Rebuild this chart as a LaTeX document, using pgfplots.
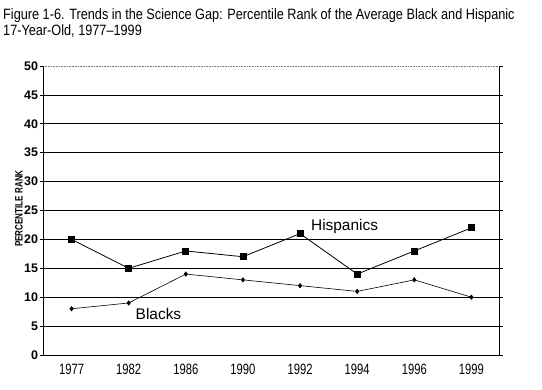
\documentclass[border=0pt]{standalone}
\usepackage{fontspec}
\setmainfont{Liberation Sans}
\newfontfamily\condfont[FakeStretch=0.85]{Liberation Sans}
\newfontfamily\narrowfont[FakeStretch=0.75]{Liberation Sans}
\usepackage{pgfplots}
\pgfplotsset{compat=1.18}
\begin{document}
\begin{tikzpicture}
\begin{axis}[
  at={(0,0)}, anchor=south west,
  scale only axis, width=457bp, height=289bp,
  xmin=-0.5, xmax=7.5, ymin=0, ymax=50,
  xtick={0,...,7},
  xticklabels={1977,1982,1986,1990,1992,1994,1996,1999},
  x tick label style={font=\narrowfont\fontsize{15}{17}\selectfont, yshift=-3bp},
  major x tick style={draw=none},
  ytick={0,5,...,50},
  y tick label style={font=\fontsize{12.5}{14}\selectfont\bfseries, xshift=1.5bp},
  /pgf/number format/assume math mode=true,
  tick align=outside, major tick length=3bp,
  ytick style={black, line width=0.8pt},
  ymajorgrids, grid style={black, line width=0.7pt},
  axis line style={draw=none},
  clip=false,
]
\draw[white, line width=1pt] (axis cs:-0.5,50) -- (axis cs:7.5,50);
\draw[gray, line width=0.6pt, densely dotted] (axis cs:-0.5,50) -- (axis cs:7.5,50);
\draw[black, line width=1pt] (axis cs:-0.5,50) -- (axis cs:-0.5,0) -- (axis cs:7.5,0) -- (axis cs:7.5,50);
\addplot[black, line width=0.8pt, mark=square*, mark size=3bp] coordinates {
(0,20) (1,15) (2,18) (3,17) (4,21) (5,14) (6,18) (7,22)};
\addplot[black, line width=0.6pt, mark=diamond*, mark size=2.2bp] coordinates {
(0,8) (1,9) (2,14) (3,13) (4,12) (5,11) (6,13) (7,10)};
\node[anchor=west, font=\fontsize{15.5}{17}\selectfont, inner sep=0pt] at (axis cs:4.19,22.3) {Hispanics};
\node[anchor=west, font=\fontsize{15.5}{17}\selectfont, inner sep=0pt] at (axis cs:1.12,7.1) {Blacks};
\node[rotate=90, inner sep=0pt, font=\narrowfont\bfseries\fontsize{10.8}{11}\selectfont] at ([xshift=-24bp,yshift=2bp]axis description cs:0,0.5) {PERCENTILE RANK};
\end{axis}
\node[anchor=north west, align=left, inner sep=0pt, font=\condfont\fontsize{15}{16.5}\selectfont] at (-40bp,347bp) {Figure 1-6. Trends in the Science Gap: Percentile Rank of the Average Black and Hispanic\\17-Year-Old, 1977–1999};
\pgfresetboundingbox
\path (-43bp,-35bp) rectangle (499bp,355bp);
\end{tikzpicture}
\end{document}
